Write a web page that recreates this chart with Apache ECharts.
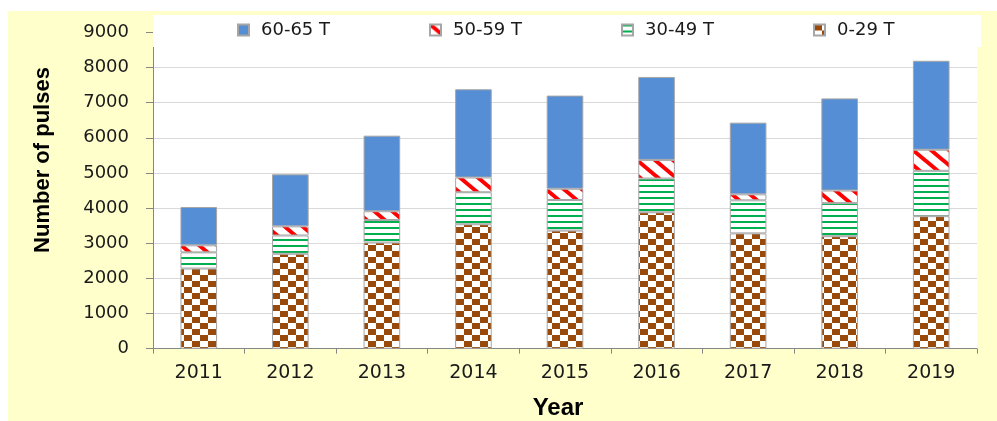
<!DOCTYPE html>
<html>
<head>
<meta charset="utf-8">
<script src="https://cdn.jsdelivr.net/npm/echarts@6/dist/echarts.min.js"></script>
<style>
  html, body { margin: 0; padding: 0; background: #ffffff; }
  #chart { position: absolute; left: 8px; top: 11px; width: 989px; height: 410px; }
</style>
</head>
<body>
<div id="chart"></div>
<script>
// Yearly pulse counts, split by field strength class
const years = ['2011', '2012', '2013', '2014', '2015', '2016', '2017', '2018', '2019'];
const names = ['60-65 T', '50-59 T', '30-49 T', '0-29 T'];
const pulses0to29  = [2280, 2700, 3020, 3540, 3360, 3880, 3280, 3200, 3770];
const pulses30to49 = [460, 520, 640, 910, 870, 960, 940, 940, 1290];
const pulses50to59 = [200, 260, 250, 420, 320, 530, 170, 360, 600];
const pulses60to65 = [1090, 1480, 2150, 2510, 2650, 2360, 2040, 2620, 2530];
const yMax = 9000;
const yStep = 1000;

// ---- fill patterns ----
function makeCanvas(w, h) {
  const c = document.createElement('canvas');
  c.width = w; c.height = h;
  return c;
}
function checkerPattern() {
  const w = 8, h = 6;
  const c = makeCanvas(w * 2, h * 2);
  const g = c.getContext('2d');
  g.fillStyle = '#ffffff'; g.fillRect(0, 0, w * 2, h * 2);
  g.fillStyle = '#994a0a';
  g.fillRect(0, 0, w, h);
  g.fillRect(w, h, w, h);
  return c;
}
function hStripePattern() {
  const c = makeCanvas(4, 6);
  const g = c.getContext('2d');
  g.fillStyle = '#ffffff'; g.fillRect(0, 0, 4, 6);
  g.fillStyle = '#00b050'; g.fillRect(0, 0, 4, 2);
  return c;
}
function diagPattern() {
  const W = 18, H = 15;
  const c = makeCanvas(W, H);
  const g = c.getContext('2d');
  g.fillStyle = '#ffffff'; g.fillRect(0, 0, W, H);
  g.strokeStyle = '#ff0000';
  g.lineWidth = 4;
  [-W, 0, W].forEach(function (dx) {
    g.beginPath();
    g.moveTo(-W + dx, -H);
    g.lineTo(2 * W + dx, 2 * H);
    g.stroke();
  });
  return c;
}
const fills = {
  '0-29 T':  { image: checkerPattern(), repeat: 'repeat' },
  '30-49 T': { image: hStripePattern(), repeat: 'repeat' },
  '50-59 T': { image: diagPattern(), repeat: 'repeat' },
  '60-65 T': '#558ed5'
};
const seriesData = {
  '0-29 T': pulses0to29,
  '30-49 T': pulses30to49,
  '50-59 T': pulses50to59,
  '60-65 T': pulses60to65
};

const chart = echarts.init(document.getElementById('chart'), null, { renderer: 'canvas' });

const labelFont = 'DejaVu Sans';
const legendLefts = [229, 421, 613, 805];

const option = {
  backgroundColor: '#ffffcc',
  animation: false,
  grid: {
    left: 145, right: 20, top: 21.3, bottom: 72.3,
    show: true, backgroundColor: '#ffffff', borderWidth: 0
  },
  legend: names.map(function (n, i) {
    return {
      data: [n],
      left: legendLefts[i],
      top: 10,
      padding: 0,
      itemWidth: 11,
      itemHeight: 11,
      icon: 'rect',
      z: 5,
      selectedMode: false,
      textStyle: { fontFamily: labelFont, fontSize: 18, color: '#1a1a1a', padding: [0, 0, 0, 7] }
    };
  }),
  graphic: [
    {
      type: 'rect', z: 3,
      shape: { x: 145, y: 4, width: 828, height: 32 },
      style: { fill: '#ffffff' }
    },
    {
      type: 'text', z: 5,
      x: 35, y: 149, rotation: Math.PI / 2,
      style: {
        text: 'Number of pulses', fill: '#000000',
        font: 'bold 22px "Liberation Sans"',
        align: 'center', verticalAlign: 'middle'
      }
    },
    {
      type: 'text', z: 5,
      x: 550, y: 397,
      style: {
        text: 'Year', fill: '#000000',
        font: 'bold 24px "Liberation Sans"',
        align: 'center', verticalAlign: 'middle'
      }
    }
  ],
  xAxis: {
    type: 'category',
    data: years,
    axisLine: { show: true, lineStyle: { color: '#868686', width: 1 } },
    axisTick: { show: true, length: 5, lineStyle: { color: '#868686' } },
    axisLabel: { fontFamily: labelFont, fontSize: 19, color: '#1a1a1a', margin: 15 },
    splitLine: { show: false }
  },
  yAxis: {
    type: 'value',
    min: 0, max: yMax, interval: yStep,
    axisLine: { show: true, lineStyle: { color: '#868686', width: 1 } },
    axisTick: { show: true, length: 7, lineStyle: { color: '#868686' } },
    axisLabel: {
      fontFamily: labelFont, fontSize: 18, color: '#1a1a1a', margin: 24,
      formatter: function (v) { return String(v); }
    },
    splitLine: { show: true, lineStyle: { color: '#d9d9d9', width: 1 } }
  },
  series: names.slice().reverse().map(function (n) {
    return {
      name: n,
      type: 'bar',
      stack: 'total',
      barWidth: '40%',
      data: seriesData[n],
      itemStyle: { color: fills[n], borderColor: '#a6a6a6', borderWidth: 1 }
    };
  })
};

chart.setOption(option);
</script>
</body>
</html>
